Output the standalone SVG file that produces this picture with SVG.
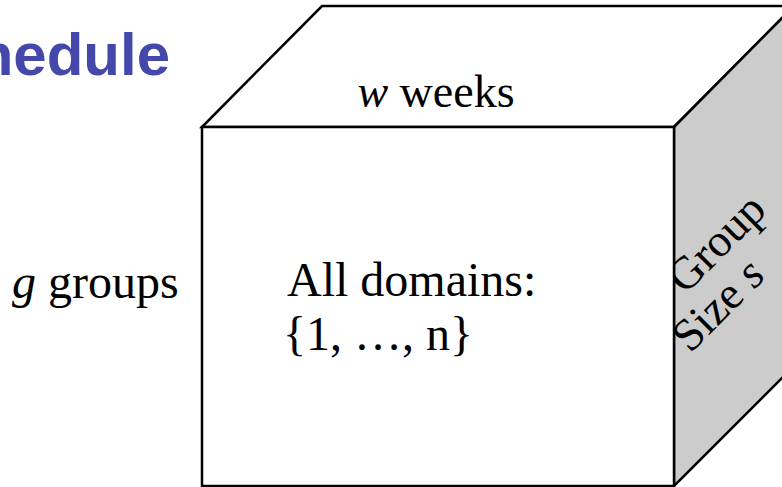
<svg xmlns="http://www.w3.org/2000/svg" width="782" height="487" viewBox="0 0 782 487">
  <style>
    .edge { stroke: #000; stroke-width: 2.5; stroke-linejoin: miter; }
    .lbl { font-family: "Liberation Serif", "Times New Roman", serif; font-size: 46px; fill: #000; }
    .big { font-size: 48px; }
    .title { font-family: "Liberation Sans", Arial, sans-serif; font-weight: bold; font-size: 60px; fill: #4448AA; }
  </style>
  <rect width="782" height="487" fill="#fff"/>
  <text class="title" x="170" y="75" text-anchor="end">hedule</text>

  <!-- cube: top, side and front faces -->
  <g id="cube-top">
    <polygon class="edge" fill="#fff" points="202,127 322,6 794,6 674,127"/>
    <text class="lbl" x="436" y="107" text-anchor="middle"><tspan font-style="italic">w</tspan> weeks</text>
  </g>
  <g id="cube-side">
    <polygon class="edge" fill="#cccccc" points="674,127 794,6 794,366 674,486"/>
    <text class="lbl" transform="translate(716,243) rotate(-45)" y="15" text-anchor="middle">Group</text>
    <text class="lbl" transform="translate(718,305) rotate(-45)" y="15" text-anchor="middle">Size <tspan font-style="italic">s</tspan></text>
  </g>
  <g id="cube-front">
    <rect class="edge" fill="#fff" x="202" y="127" width="472" height="359"/>
    <text class="lbl big" x="287" y="296">All domains:</text>
    <text class="lbl big" x="283" y="350">{1, …, n}</text>
  </g>
  <g id="groups-label">
    <text class="lbl big" x="12" y="298"><tspan font-style="italic">g</tspan> groups</text>
  </g>
</svg>
